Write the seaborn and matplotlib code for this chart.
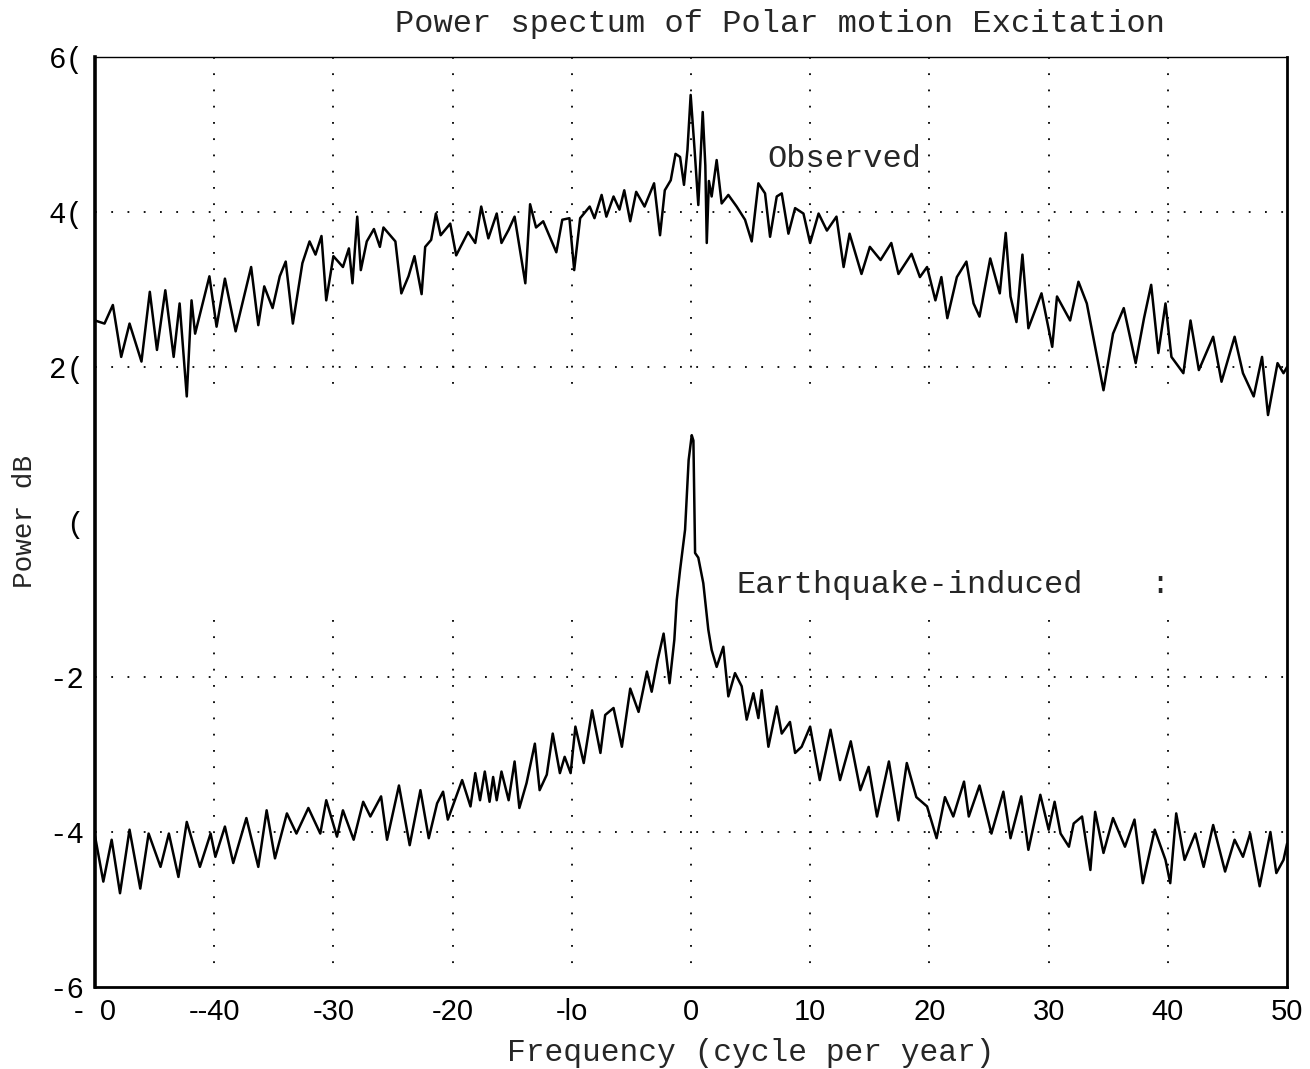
import matplotlib
matplotlib.use("Agg")
import matplotlib.pyplot as plt
import seaborn as sns
import pandas as pd

# ---- data ----
obs_freq = [-50.0, -49.2, -48.5, -47.8, -47.1, -46.1, -45.4, -44.8, -44.1, -43.4, -42.9, -42.3,
            -41.9, -41.6, -40.4, -39.8, -39.1, -38.2, -36.9, -36.3, -35.8, -35.1, -34.5, -34.0,
            -33.4, -32.6, -32.0, -31.5, -31.0, -30.6, -30.0, -29.2, -28.7, -28.4, -28.0, -27.7,
            -27.2, -26.6, -26.1, -25.8, -24.8, -24.3, -23.7, -23.2, -22.6, -22.3, -21.8, -21.4,
            -21.0, -20.2, -19.7, -18.7, -18.1, -17.6, -17.0, -16.3, -15.9, -15.3, -14.8, -13.9,
            -13.5, -13.0, -12.4, -11.3, -10.8, -10.2, -9.8, -9.3, -8.5, -8.1, -7.5, -7.1, -6.5,
            -6.0, -5.6, -5.1, -4.6, -3.9, -3.1, -2.6, -2.2, -1.7, -1.3, -0.92, -0.59, -0.3, -0.03,
            0.3, 0.61, 0.98, 1.2, 1.32, 1.5, 1.73, 2.15, 2.57, 3.13, 3.83, 4.53, 5.09, 5.65, 6.21,
            6.63, 7.19, 7.61, 8.17, 8.73, 9.43, 9.99, 10.7, 11.4, 12.2, 12.8, 13.3, 14.3, 15.0,
            15.9, 16.8, 17.4, 18.5, 19.2, 19.8, 20.5, 21.0, 21.5, 22.3, 23.1, 23.7, 24.2, 25.1,
            25.9, 26.4, 26.8, 27.3, 27.8, 28.3, 29.4, 30.3, 30.7, 31.8, 32.5, 33.2, 34.6, 35.4,
            36.3, 37.3, 38.0, 38.6, 39.2, 39.8, 40.3, 41.3, 41.9, 42.6, 43.8, 44.5, 45.6, 46.3,
            47.2, 47.9, 48.4, 49.2, 49.7, 50.0]
obs_power = [26.0, 25.6, 28.0, 21.3, 25.6, 20.7, 29.7, 22.2, 29.9, 21.3, 28.2, 16.2,
             28.6, 24.3, 31.7, 25.2, 31.4, 24.6, 32.9, 25.4, 30.4, 27.6, 31.7, 33.6,
             25.6, 33.4, 36.2, 34.5, 36.9, 28.6, 34.3, 32.9, 35.3, 30.8, 39.4, 32.5,
             36.2, 37.8, 35.5, 38.0, 36.2, 29.5, 31.7, 34.3, 29.4, 35.5, 36.4, 39.8,
             37.0, 38.5, 34.4, 37.4, 36.0, 40.7, 36.6, 39.8, 36.0, 37.7, 39.4, 30.8,
             41.0, 38.0, 38.8, 34.8, 39.0, 39.2, 32.5, 39.2, 40.7, 39.2, 42.2, 39.4, 42.0,
             40.3, 42.8, 38.8, 42.6, 40.7, 43.7, 37.0, 42.8, 44.1, 47.5, 47.1, 43.5, 48.0, 55.1,
             48.0, 40.9, 52.9, 46.0, 36.0, 44.0, 42.0, 46.7, 41.1, 42.2, 40.7, 39.0, 36.2, 43.7, 42.4,
             36.8, 42.0, 42.4, 37.2, 40.5, 39.8, 36.0, 39.8, 37.6, 39.4, 32.9, 37.2, 32.0, 35.5,
             33.8, 36.0, 32.0, 34.6, 31.6, 32.9, 28.6, 31.6, 26.3, 31.6, 33.6, 28.2, 26.5, 34.0,
             29.5, 37.3, 29.1, 25.8, 34.5, 25.0, 29.5, 22.6, 29.1, 26.0, 31.0, 28.2, 17.0, 24.3,
             27.6, 20.5, 26.3, 30.6, 21.8, 28.2, 21.3, 19.2, 26.0, 19.6, 23.9, 18.1, 23.9, 19.2,
             16.2, 21.3, 13.8, 20.5, 19.2, 20.0]

eq_freq = [-50.0, -49.3, -48.6, -47.9, -47.1, -46.2, -45.5, -44.5, -43.8, -43.0, -42.3, -41.2,
           -40.3, -39.9, -39.1, -38.4, -37.3, -36.3, -35.6, -34.9, -33.9, -33.1, -32.1, -31.1,
           -30.6, -29.7, -29.2, -28.3, -27.5, -26.9, -26.0, -25.5, -24.5, -23.6, -22.7, -22.0,
           -21.3, -20.8, -20.4, -19.2, -18.5, -18.1, -17.7, -17.3, -16.9, -16.6, -16.3, -15.9,
           -15.3, -14.8, -14.4, -13.8, -13.1, -12.7, -12.1, -11.6, -11.0, -10.6, -10.1, -9.7,
           -9.0, -8.3, -7.6, -7.2, -6.5, -5.8, -5.1, -4.4, -3.7, -3.3, -2.8, -2.3, -1.8, -1.4,
           -1.2, -0.92, -0.5, -0.2, 0.06, 0.2, 0.34, 0.61, 1.03, 1.45, 1.73, 2.15, 2.71, 3.13,
           3.69, 4.25, 4.67, 5.23, 5.65, 5.93, 6.49, 7.19, 7.61, 8.3, 8.73, 9.28, 9.99, 10.8,
           11.7, 12.5, 13.4, 14.2, 14.9, 15.6, 16.6, 17.4, 18.1, 18.9, 19.8, 20.6, 21.3, 22.0,
           22.9, 23.3, 24.2, 25.2, 26.2, 26.8, 27.7, 28.3, 29.3, 30.0, 30.5, 31.0, 31.7, 32.1,
           32.8, 33.5, 33.9, 34.6, 35.4, 36.4, 37.2, 37.9, 38.9, 39.8, 40.2, 40.7, 41.4, 42.3,
           43.0, 43.8, 44.8, 45.6, 46.3, 46.9, 47.7, 48.6, 49.1, 49.7, 50.0]
eq_power = [-40.5, -46.4, -41.0, -47.9, -39.7, -47.3, -40.2, -44.5, -40.2, -45.8, -38.7, -44.5,
            -40.2, -43.2, -39.3, -44.0, -38.2, -44.5, -37.2, -43.4, -37.6, -40.2, -36.9, -40.2,
            -35.9, -40.6, -37.2, -41.0, -36.1, -38.0, -35.4, -41.0, -34.0, -41.7, -34.6, -40.8,
            -36.3, -34.8, -38.4, -33.3, -36.7, -32.4, -35.9, -32.2, -36.1, -32.9, -35.9, -32.2,
            -35.9, -30.9, -36.9, -33.7, -28.6, -34.6, -32.6, -27.3, -32.4, -30.3, -32.4, -26.4,
            -31.1, -24.3, -29.8, -24.9, -24.0, -29.0, -21.5, -24.5, -19.3, -21.9, -17.8, -14.4, -20.8, -15.2,
            -10.1, -6.2, -1.0, 8.0, 11.2, 10.5, -4.0, -4.6, -7.9, -13.9, -16.5, -18.7, -16.1, -22.5,
            -19.5, -21.2, -25.5, -22.1, -25.3, -21.7, -29.0, -23.8, -27.3, -25.8, -29.8, -29.0, -26.4, -33.3,
            -26.8, -33.3, -28.3, -34.6, -31.6, -38.0, -30.9, -38.5, -31.1, -35.5, -36.7, -40.8, -35.5, -38.0,
            -33.5, -38.0, -34.0, -40.2, -34.8, -40.8, -35.4, -42.3, -35.2, -39.7, -36.1, -40.2, -41.9, -38.9,
            -38.0, -44.9, -37.4, -42.7, -38.2, -41.9, -38.4, -46.6, -39.7, -43.6, -46.6, -37.6, -43.6, -40.2,
            -44.5, -39.1, -45.1, -41.0, -43.2, -40.2, -47.0, -40.0, -45.3, -43.6, -41.5]

x_ticks = [-50, -40, -30, -20, -10, 0, 10, 20, 30, 40, 50]
x_tick_labels = ["-  0", "--40", "-30", "-20", "-lo", "0", "10", "20", "30", "40", "50"]
y_ticks = [60, 40, 20, 0, -20, -40, -60]
y_tick_labels = ["6(", "4(", "2(", "(", "-2", "-4", "-6"]

title = "Power spectum of Polar motion Excitation"
x_label = "Frequency (cycle per year)"
y_label = "Power dB"

# ---- plotting ----
sns.set_style("white")
mono = ["Liberation Mono", "DejaVu Sans Mono"]
narrow = ["Liberation Sans Narrow", "Liberation Sans", "DejaVu Sans"]

fig = plt.figure(figsize=(13.1, 10.69), dpi=100)
ax = fig.add_axes([0.0725, 0.0767, 0.91, 0.87])

df_obs = pd.DataFrame({"freq": obs_freq, "power": obs_power})
df_eq = pd.DataFrame({"freq": eq_freq, "power": eq_power})
sns.lineplot(data=df_obs, x="freq", y="power", color="black", lw=1.8,
             estimator=None, sort=False, ax=ax)
sns.lineplot(data=df_eq, x="freq", y="power", color="black", lw=1.8,
             estimator=None, sort=False, ax=ax)

ax.set_xlim(-50, 50)
ax.set_ylim(-60, 60)

# dotted grid
for yv in [40, 20, -20, -40]:
    ax.axhline(yv, color="black", lw=1.3, ls=(0, (1, 8)), zorder=0)
for xv in [-40, -30, -20, -10, 0, 10, 20, 30, 40]:
    ax.plot([xv, xv], [60, 16], color="black", lw=1.3, ls=(0, (1, 8)), zorder=0)
    ax.plot([xv, xv], [-12.6, -57], color="black", lw=1.3, ls=(0, (1, 8)), zorder=0)

ax.set_xticks(x_ticks)
ax.set_xticklabels(x_tick_labels, fontsize=21, family=narrow)
ax.set_yticks(y_ticks)
ax.set_yticklabels(y_tick_labels, fontsize=21, family=mono)
ax.tick_params(axis="x", direction="in", length=6, width=1.2, pad=8, colors="black")
ax.tick_params(axis="y", length=0, pad=8, colors="black")

ax.set_xlabel(x_label, fontsize=22.5, family=mono, labelpad=6)
ax.xaxis.set_label_coords(0.55, -0.055)
ax.set_ylabel(y_label, fontsize=20, family=mono, labelpad=4)
ax.yaxis.set_label_coords(-0.048, 0.5)
ax.set_title(title, fontsize=23, family=mono, x=0.575, pad=18)

ax.text(6.4, 46.8, "Observed", fontsize=23, family=mono, va="center", ha="left")
ax.text(3.8, -8.1, "Earthquake-induced", fontsize=23, family=mono, va="center", ha="left")
ax.text(38.5, -8.1, ":", fontsize=23, family=mono, va="center", ha="left")

for side, lw in [("left", 2.6), ("bottom", 2.0), ("right", 2.0), ("top", 1.0)]:
    ax.spines[side].set_visible(True)
    ax.spines[side].set_color("black")
    ax.spines[side].set_linewidth(lw)

fig.savefig("out.png", dpi=100, facecolor="white")
